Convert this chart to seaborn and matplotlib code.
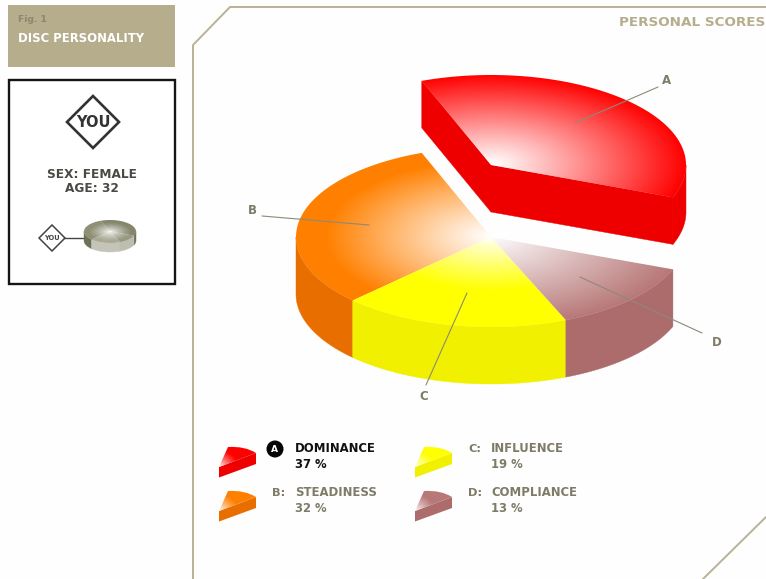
import numpy as np
import matplotlib
matplotlib.use("Agg")
import matplotlib.pyplot as plt
from matplotlib.patches import Polygon, PathPatch, Rectangle, Circle
from matplotlib.path import Path
import seaborn as sns

# Survey results
codes = ["B", "C", "D", "A"]
names = ["STEADINESS", "INFLUENCE", "COMPLIANCE", "DOMINANCE"]
percent = [32, 19, 13, 37]
top_colors = ["#FF8000", "#FFFF00", "#B87878", "#FF0000"]
side_colors = ["#E86E00", "#F0F000", "#AD6C6C", "#EE0000"]

TAN = "#B5AD8C"
GREY = "#7F7B68"
FRAME = "#B8B296"

sns.set_theme(style="white")
plt.rcParams["font.family"] = ["DejaVu Sans"]
plt.rcParams["font.weight"] = "bold"

fig = plt.figure(figsize=(7.66, 5.79), dpi=100, facecolor="#FDFEFD")
ax = fig.add_axes([0, 0, 1, 1])
ax.set_facecolor("#FDFEFD")


def arc(cx, cy, a, b, t0, t1, n=120):
    t = np.radians(np.linspace(t0, t1, n))
    return np.column_stack([cx + a * np.cos(t), cy - b * np.sin(t)])


def radial_fill(patch, cx, cy, a, b, cmap, power, reach, zorder):
    """Paint a patch with an elliptical gradient centred on (cx, cy)."""
    ax.add_patch(patch)
    patch.set_facecolor("none")
    patch.set_edgecolor("none")
    bb = patch.get_path().get_extents(patch.get_patch_transform())
    x0, x1, y0, y1 = bb.x0 - 1, bb.x1 + 1, bb.y0 - 1, bb.y1 + 1
    xs = np.linspace(x0, x1, max(int(x1 - x0) * 2, 4))
    ys = np.linspace(y0, y1, max(int(y1 - y0) * 2, 4))
    gx, gy = np.meshgrid(xs, ys)
    r = np.hypot((gx - cx) / a, (gy - cy) / b)
    im = ax.imshow(cmap(np.clip(r / reach, 0, 1) ** power),
                   extent=(x0, x1, y1, y0), origin="upper", aspect="auto",
                   interpolation="bilinear", zorder=zorder)
    im.set_clip_path(patch)


def draw_pie(cx, cy, a, b, depth, start, tops, sides, powers=None, explode=None,
             base_z=2):
    """Extruded pie: slices run counter-clockwise from `start`."""
    explode = explode or {}
    fractions = np.array(percent, dtype=float) / sum(percent)
    angle = start
    for i, frac in enumerate(fractions):
        t0, t1 = angle, angle + frac * 360
        angle = t1
        dy = explode.get(i, (0, depth))[0]
        d = explode.get(i, (0, depth))[1]
        y = cy + dy
        z = base_z + (10 if i in explode else 0)
        # outer wall: only the part of the rim facing the viewer
        lo, hi = max(t0, 180), min(t1, 360)
        if lo < hi:
            rim = arc(cx, y, a, b, lo, hi)
            ax.add_patch(Polygon(np.vstack([rim, rim[::-1] + [0, d]]),
                                 closed=True, fc=sides[i], ec=sides[i], lw=0.3, zorder=z))
        rim = arc(cx, y, a, b, t0, t1)
        # cut faces are only visible on a slice pulled out of the pie
        if i in explode:
            for p in (rim[0], rim[-1]):
                ax.add_patch(Polygon([(cx, y), p, p + [0, d], (cx, y + d)],
                                     closed=True, fc=sides[i], ec=sides[i], lw=0.3, zorder=z))
        cmap = sns.blend_palette(["#FFFFFF", tops[i]], n_colors=64, as_cmap=True)
        power, reach = (powers or {}).get(i, (0.8, 0.9))
        top = Polygon(np.vstack([[cx, y], rim]), closed=True)
        radial_fill(top, cx, y, a, b, cmap, power, reach, z + 1)


# Main pie with the dominant slice lifted out
draw_pie(491, 237, 195, 90, 57, 110.8, top_colors, side_colors,
         powers={0: (1.05, 0.85), 1: (0.85, 0.6), 2: (0.95, 1.0), 3: (1.05, 1.0)},
         explode={3: (-72, 47)})

# Leader lines and slice letters
leaders = {"A": [(575, 123), (658, 87)], "B": [(262, 216), (369, 225)],
           "C": [(467, 293), (426, 385)], "D": [(580, 277), (702, 333)]}
letter_at = {"A": (667, 81), "B": (252, 211), "C": (424, 397), "D": (717, 343)}
for key, pts in leaders.items():
    (x0, y0), (x1, y1) = pts
    ax.plot([x0, x1], [y0, y1], color="#8C8A78", lw=0.8, zorder=30)
    ax.text(*letter_at[key], key, color=GREY, fontsize=8.5, ha="center", va="center", zorder=31)

# Page frame with clipped corners
ax.plot([193, 193, 230, 766], [579, 45, 7, 7], color=FRAME, lw=1.4, zorder=1)
ax.plot([703, 766], [579, 517], color=FRAME, lw=1.4, zorder=1)
ax.text(765, 22, "PERSONAL SCORES", color=TAN, fontsize=9.7, ha="right", va="center")

# Figure caption block
ax.add_patch(Rectangle((8, 5), 167, 62, fc=TAN, ec="none"))
ax.text(18, 20, "Fig. 1", color="#8C8670", fontsize=6.6, va="center")
ax.text(18, 38.5, "DISC PERSONALITY", color="white", fontsize=8.4, va="center")

# Respondent card
ax.add_patch(Rectangle((9, 79.5), 166, 204, fc="white", ec="#151515", lw=1.7))
ax.add_patch(Polygon([(93, 96), (119, 122), (93, 148), (67, 122)], closed=True,
                     fc="white", ec="#333333", lw=1.9))
ax.text(93, 122.5, "YOU", color="#333333", fontsize=10.5, ha="center", va="center")
ax.text(92, 174, "SEX: FEMALE", color="#4A4A44", fontsize=8.7, ha="center", va="center")
ax.text(92, 189, "AGE: 32", color="#4A4A44", fontsize=8.7, ha="center", va="center")
ax.plot([64, 84], [238, 238], color="#444444", lw=1)
ax.add_patch(Polygon([(52, 225), (65, 238), (52, 251), (39, 238)], closed=True,
                     fc="white", ec="#444444", lw=1.1))
ax.text(52, 238.5, "YOU", color="#444444", fontsize=4.8, ha="center", va="center")
draw_pie(110, 231.5, 26, 11.5, 9, 110.8,
         ["#8F9076", "#A9A995", "#9A9A84", "#85866C"],
         ["#6F7058", "#C4C4B8", "#BDBDB0", "#6F7058"],
         powers={i: (0.7, 0.8) for i in range(4)}, explode=None, base_z=3)

# Legend
legend_at = {"A": (219, 0), "B": (219, 44), "C": (415, 0), "D": (415, 44)}
for i, code in enumerate(codes):
    lx, off = legend_at[code]
    ay = 467 + off
    side = Polygon([(lx, ay), (lx + 37, ay - 14), (lx + 37, ay - 3), (lx, ay + 10.5)],
                   closed=True, fc=side_colors[i], ec="none", zorder=5)
    ax.add_patch(side)
    top = PathPatch(Path([(lx, ay), (lx + 9, ay - 20), (lx + 26, ay - 21), (lx + 37, ay - 14), (lx, ay)],
                         [Path.MOVETO, Path.LINETO, Path.CURVE3, Path.CURVE3, Path.CLOSEPOLY]))
    cmap = sns.blend_palette(["#FFFFFF", top_colors[i]], n_colors=32, as_cmap=True)
    radial_fill(top, lx, ay, 24, 20, cmap, 0.8, 0.8, 6)

    ty = 449 + off
    strong = code == "A"
    ink = "#111111" if strong else GREY
    tx = 295 if lx == 219 else 491
    if strong:
        ax.add_patch(Circle((tx - 20, ty), 8.5, fc="#050505", ec="none", zorder=6))
        ax.text(tx - 20, ty + 0.5, code, color="white", fontsize=6.6, ha="center", va="center", zorder=7)
    else:
        ax.text(tx - 23, ty, f"{code}:", color=GREY, fontsize=8.2, va="center")
    ax.text(tx, ty, names[i], color=ink, fontsize=8.4, va="center")
    ax.text(tx, ty + 15, f"{percent[i]} %", color=ink, fontsize=8.4, va="center")

ax.set_xlim(0, 766)
ax.set_ylim(579, 0)
ax.axis("off")
fig.savefig("out.png", dpi=100, facecolor=fig.get_facecolor())
